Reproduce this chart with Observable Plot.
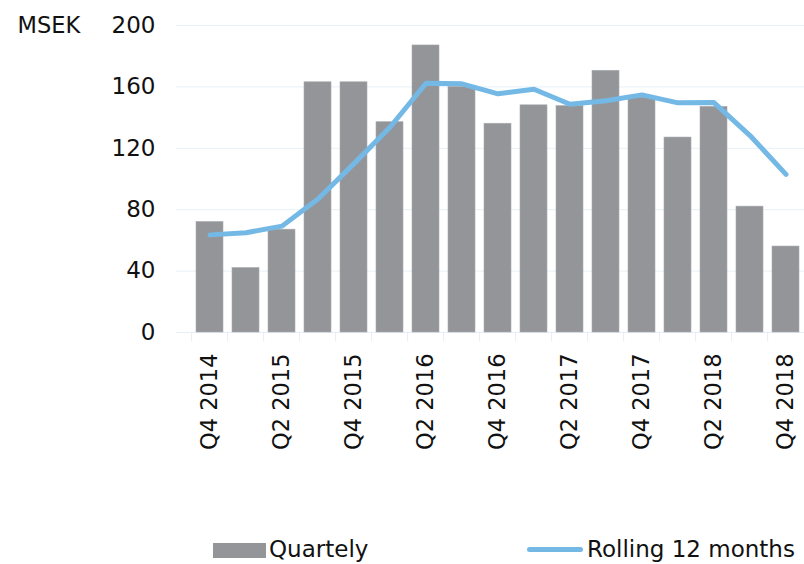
<!DOCTYPE html>
<html>
<head>
<meta charset="utf-8">
<script src="https://cdn.jsdelivr.net/npm/d3@7"></script>
<script src="https://cdn.jsdelivr.net/npm/@observablehq/plot@0.6"></script>
<style>
  html, body { margin: 0; padding: 0; background: #fff; overflow: hidden; }
  #wrap { position: relative; width: 804px; height: 564px; font-family: "DejaVu Sans", sans-serif; color: #111; }
  #legend { position: absolute; left: 0; top: 0; width: 804px; height: 564px; pointer-events: none; }
  .sw { position: absolute; }
  .lt { position: absolute; font-size: 23px; line-height: 1; color: #111; }
</style>
</head>
<body>
<div id="wrap">
  <div id="chart"></div>
  <div id="legend">
    <div class="sw" style="left:213px; top:543px; width:53px; height:15px; background:#939598;"></div>
    <div class="lt" style="left:269px; top:538px;">Quartely</div>
    <div class="sw" style="left:527px; top:547px; width:56px; height:5px; border-radius:3px; background:#74b9e6;"></div>
    <div class="lt" style="left:587px; top:538px;">Rolling 12 months</div>
  </div>
</div>
<script>
const quarters = ["Q4 2014","Q1 2015","Q2 2015","Q3 2015","Q4 2015","Q1 2016","Q2 2016","Q3 2016","Q4 2016","Q1 2017","Q2 2017","Q3 2017","Q4 2017","Q1 2018","Q2 2018","Q3 2018","Q4 2018"];
const quarterly = [72, 42, 67, 163, 163, 137, 187, 160, 136, 148, 147.5, 170.5, 153, 127, 147, 82, 56];
const rolling12 = [63.6, 65, 69.3, 87, 110, 133.7, 162.4, 162, 155.5, 158.5, 148.7, 151, 154.8, 149.6, 149.8, 128.3, 103];
const yTicks = [0, 40, 80, 120, 160, 200];
const unitLabel = "MSEK";

const rows = quarters.map((q, i) => ({q, bar: quarterly[i], roll: rolling12[i]}));

const chart = Plot.plot({
  width: 804,
  height: 525,
  marginTop: 25,
  marginBottom: 193,
  marginLeft: 176,
  marginRight: 0,
  style: {fontFamily: "'DejaVu Sans', sans-serif", color: "#111", background: "#fff"},
  x: {type: "band", domain: quarters, range: [185.3, 809], paddingInner: 0.25, paddingOuter: 0.125},
  y: {domain: [0, 200]},
  marks: [
    Plot.ruleY(yTicks, {stroke: "#e6f0f7", strokeWidth: 1}),
    Plot.ruleX(quarters, {x: d => d, y1: 0, y2: -5.9, dx: -18.35, stroke: "#e3eef6", strokeWidth: 1}),
    Plot.barY(rows, {x: "q", y: "bar", fill: "#939598", stroke: "#a9abad", strokeWidth: 0.6}),
    Plot.lineY(rows, {x: "q", y: "roll", stroke: "#74b9e6", strokeWidth: 5, strokeLinecap: "round", strokeLinejoin: "round"}),
    Plot.axisY({ticks: yTicks, tickSize: 0, tickPadding: 21, fontSize: 23, label: null}),
    Plot.axisX({tickSize: 0, tickPadding: 21, tickRotate: -90, fontSize: 22.5, label: null,
      tickFormat: (d) => quarters.indexOf(d) % 2 === 0 ? d : ""}),
    Plot.text([unitLabel], {frameAnchor: "top-left", dx: -159, textAnchor: "start", lineAnchor: "middle", fontSize: 22.5, text: d => d})
  ]
});
document.getElementById("chart").appendChild(chart);
</script>
</body>
</html>
